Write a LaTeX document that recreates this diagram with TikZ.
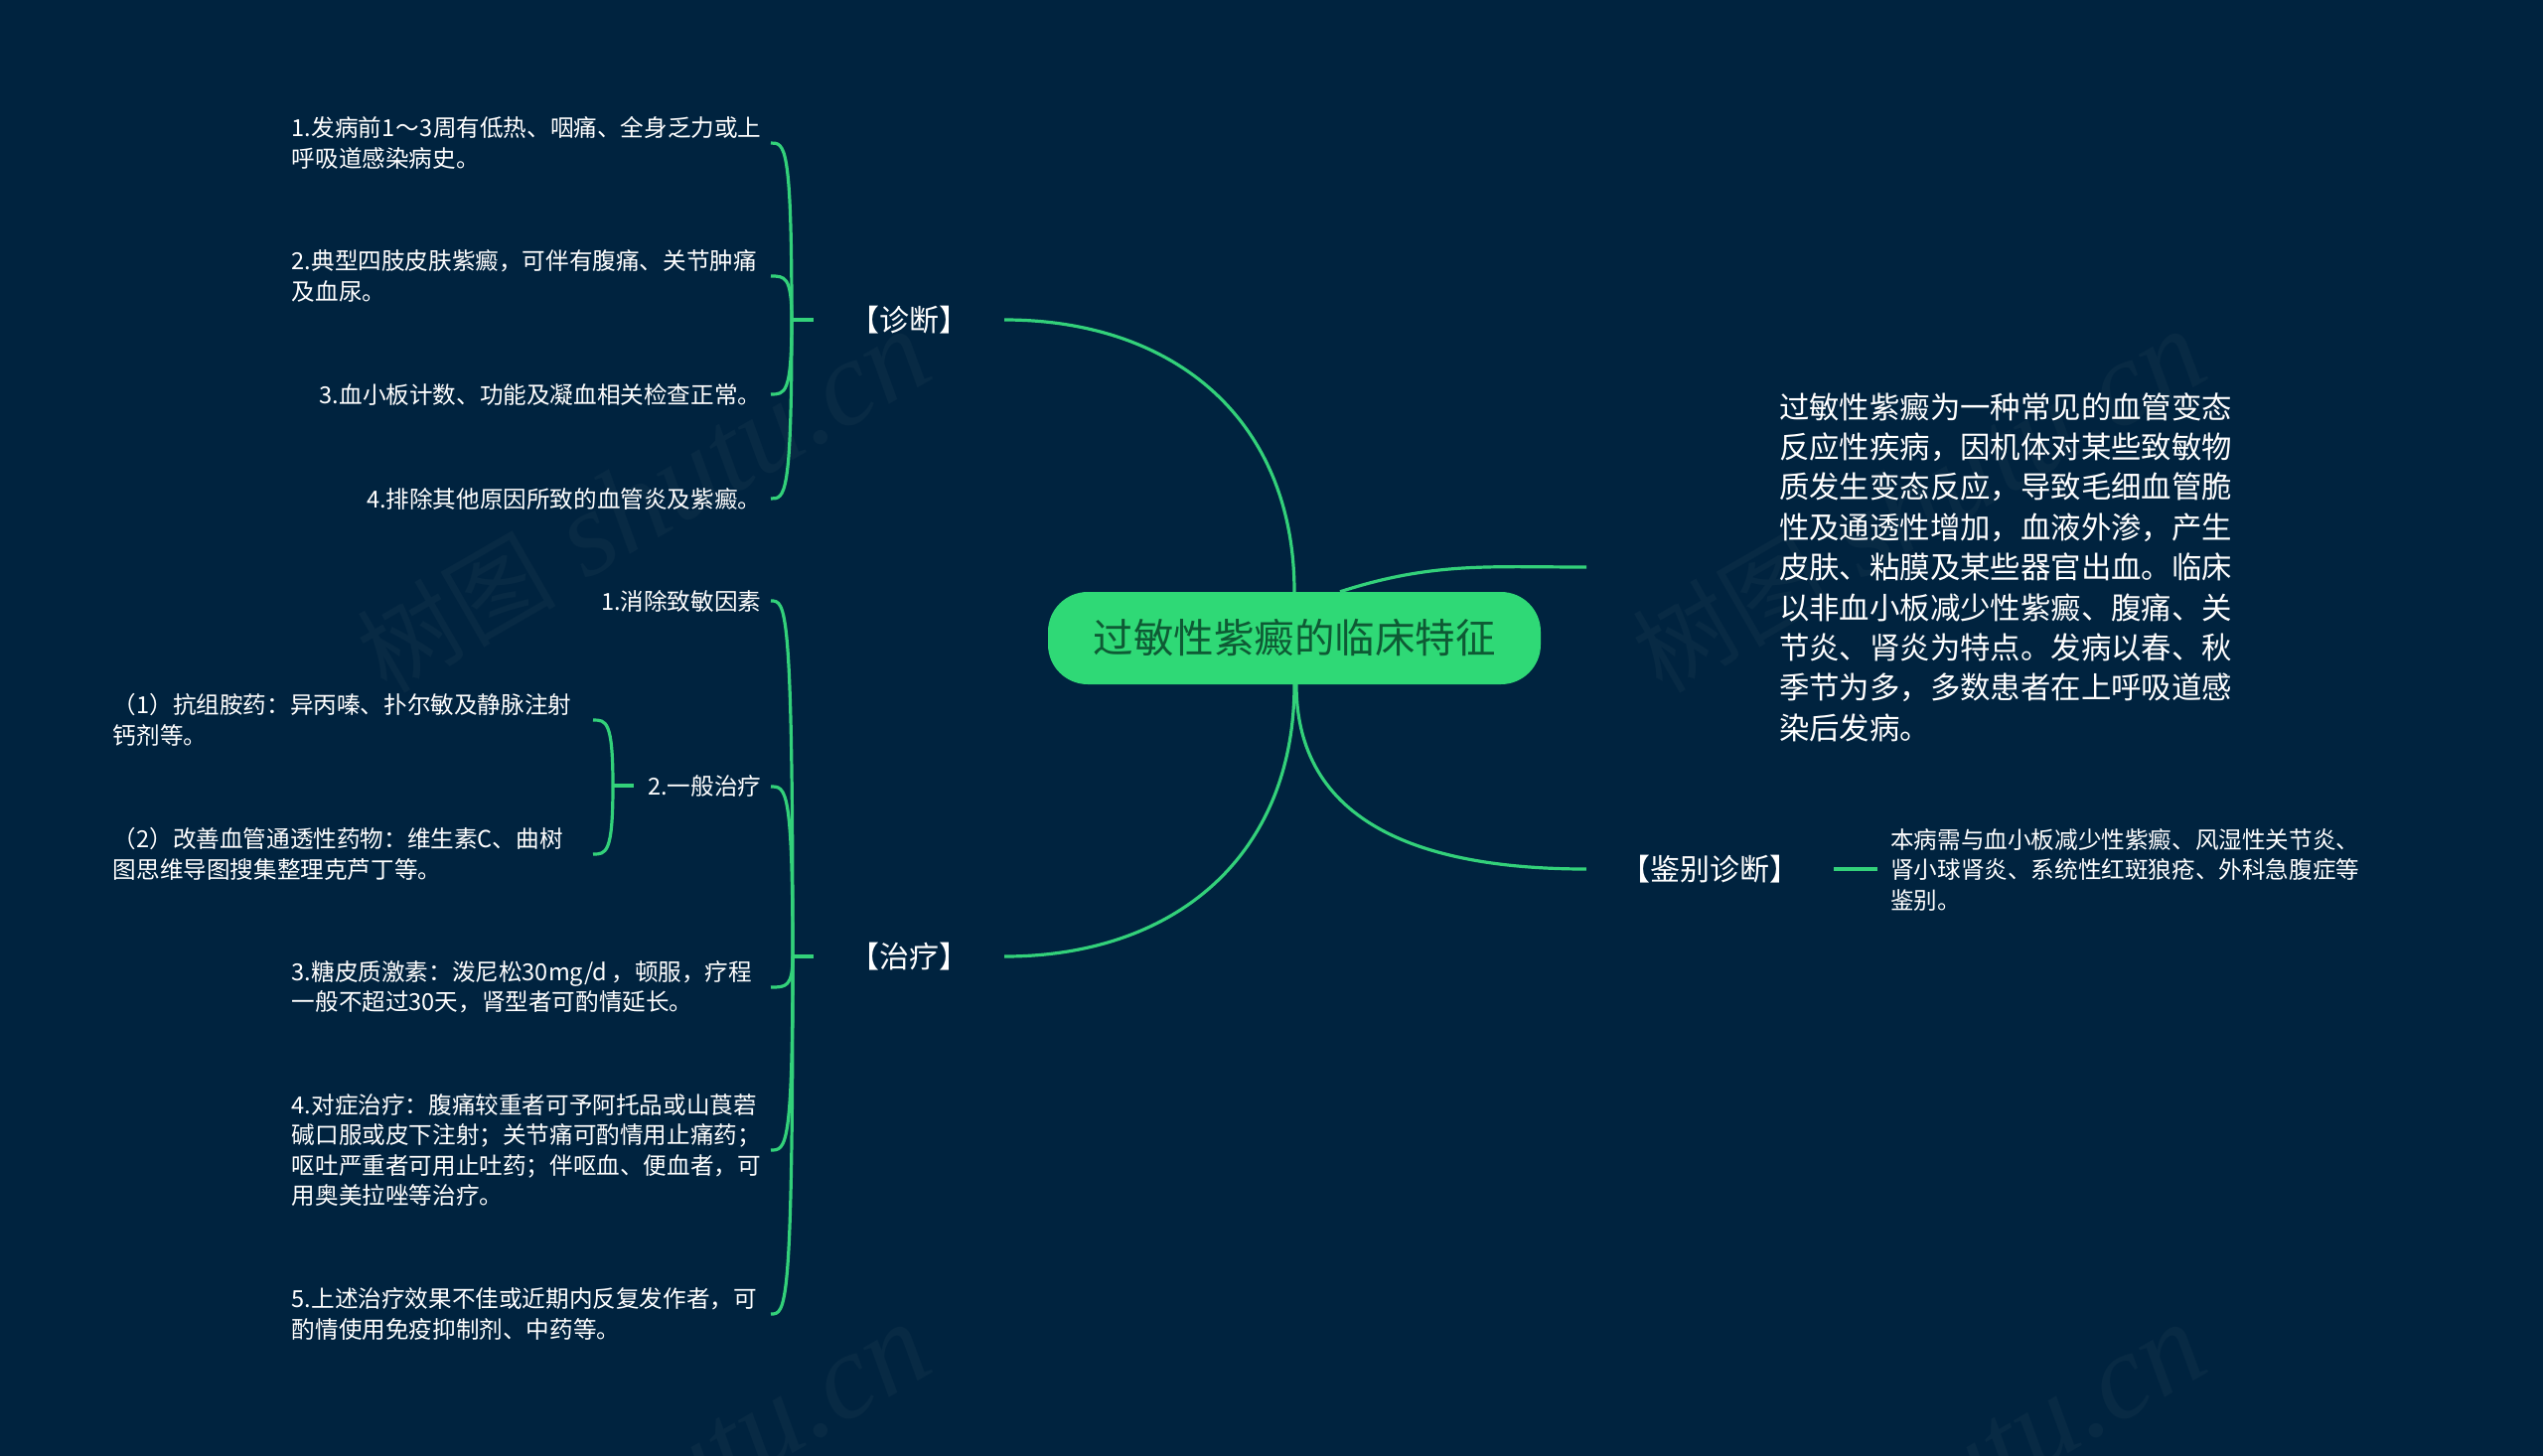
\documentclass[tikz,border=0pt]{standalone}
\usepackage{fontspec}
\setmainfont{Noto Sans CJK SC}
\newfontfamily\stampfont{Liberation Serif}
\usetikzlibrary{positioning}
\definecolor{bgblue}{HTML}{00233F}
\definecolor{mapgreen}{HTML}{33D17A}
\definecolor{rootfill}{HTML}{2FD976}
\definecolor{roottext}{HTML}{0E5A34}
\definecolor{stamp}{HTML}{082A44}
\newcommand{\stamptext}{{\fontspec{Noto Sans CJK SC}\fontsize{100}{100}\selectfont 树图} \textit{shutu.cn}}
\tikzset{
  txt/.style={text=white,font=\fontsize{23.6}{30.4}\selectfont,align=left,inner sep=0pt},
  big/.style={text=white,font=\fontsize{30.4}{40.4}\selectfont,align=left,inner sep=0pt},
  head/.style={text=white,font=\fontsize{30}{36}\selectfont,inner sep=0pt},
  link/.style={draw=mapgreen,line width=3.2pt},
  stub/.style={draw=mapgreen,line width=4pt},
  wm/.style={text=stamp,font=\stampfont\fontsize{122}{122}\selectfont,rotate=30,inner sep=0pt}
}
\begin{document}
\begin{tikzpicture}[x=1pt,y=-1pt]
  \useasboundingbox (0,0) rectangle (2560,1465);
  \fill[bgblue] (-5,-5) rectangle (2565,1470);

  % watermark
  \node[wm] (w1) at (648,506) {\stamptext};
  \node[wm] (w2) at (1932,506) {\stamptext};
  \node[wm] (w3) at (648,1506) {\stamptext};
  \node[wm] (w4) at (1932,1506) {\stamptext};

  \node[fill=rootfill,rounded corners=40pt,minimum width=496pt,minimum height=93pt,
    text=roottext,font=\fontsize{40.5}{48}\selectfont] (root) at (1303,642.5) {过敏性紫癜的临床特征};

  \node[head,minimum width=192pt] (zd) at (915,322) {【诊断】};
  \node[head,minimum width=192pt] (zl) at (915,963) {【治疗】};
  \node[head,minimum width=249pt] (jb) at (1721.5,875) {【鉴别诊断】};
  \coordinate (ptail) at (1597,571);
  \node[big] (intro) at (2019,571) {过敏性紫癜为一种常见的血管变态\\反应性疾病，因机体对某些致敏物\\质发生变态反应，导致毛细血管脆\\性及通透性增加，血液外渗，产生\\皮肤、粘膜及某些器官出血。临床\\以非血小板减少性紫癜、腹痛、关\\节炎、肾炎为特点。发病以春、秋\\季节为多，多数患者在上呼吸道感\\染后发病。};
  \node[txt,anchor=west,inner xsep=13pt,yshift=-1pt] (jb1) at (1890,875) {本病需与血小板减少性紫癜、风湿性关节炎、\\肾小球肾炎、系统性红斑狼疮、外科急腹症等\\鉴别。};

  \coordinate (zdj) at (797,322);
  \coordinate (zlj) at (798,963);
  \coordinate (ybj) at (617,791);
  \coordinate (ybs) at (638,791);

  \node[txt,anchor=east,inner xsep=12pt,text width=470pt,yshift=-2pt] (d1) at (776,142) {1.发病前1\kern1pt～\kern1pt3周有低热、咽痛、全身乏力或上\\呼吸道感染病史。};
  \node[txt,anchor=east,inner xsep=12pt,text width=470pt,yshift=-1pt] (d2) at (776,277) {2.典型四肢皮肤紫癜，可伴有腹痛、关节肿痛\\及血尿。};
  \node[txt,anchor=east,inner xsep=9.5pt] (d3) at (776,397) {3.血小板计数、功能及凝血相关检查正常。};
  \node[txt,anchor=east,inner xsep=9.5pt] (d4) at (776,502) {4.排除其他原因所致的血管炎及紫癜。};

  \node[txt,anchor=east,inner xsep=9.5pt,yshift=-1pt] (t1) at (776,604) {1.消除致敏因素};
  \node[txt,anchor=east,inner xsep=9.5pt,yshift=-1pt] (t2) at (776,791) {2.一般治疗};
  \node[txt,anchor=east,inner xsep=12pt,text width=470pt,yshift=-1pt] (t3) at (776,993) {3.糖皮质激素：泼尼松30mg/d\kern4pt，顿服，疗程\\一般不超过30天，肾型者可酌情延长。};
  \node[txt,anchor=east,inner xsep=12pt,text width=470pt] (t4) at (776,1158) {4.对症治疗：腹痛较重者可予阿托品或山莨菪\\碱口服或皮下注射；关节痛可酌情用止痛药；\\呕吐严重者可用止吐药；伴呕血、便血者，可\\用奥美拉唑等治疗。};
  \node[txt,anchor=east,inner xsep=12pt,text width=470pt,yshift=-1pt] (t5) at (776,1322) {5.上述治疗效果不佳或近期内反复发作者，可\\酌情使用免疫抑制剂、中药等。};

  \node[txt,anchor=east,inner xsep=20pt,text width=463pt,yshift=-2pt] (s1) at (597,723) {（1）抗组胺药：异丙嗪、扑尔敏及静脉注射\\钙剂等。};
  \node[txt,anchor=east,inner xsep=20pt,text width=463pt,yshift=-1pt] (s2) at (597,859) {（2）改善血管通透性药物：维生素C、曲树\\图思维导图搜集整理克芦丁等。};

  \draw[link] (root.north) to[out=90,in=0,looseness=1.1] (zd.east);
  \draw[link] (root.south) to[out=-90,in=0,looseness=1.1] (zl.east);
  \draw[link] ([xshift=2pt]root.south) to[out=-90,in=180,looseness=1.1] (jb.west);
  \draw[link] ([xshift=46pt]root.north) to[out=18,in=180] (ptail);
  \draw[stub] (jb.east) -- (jb1.west |- jb.east);

  \draw[stub] (zdj) -- (zd.west);
  \draw[stub] (zlj) -- (zl.west);
  \draw[stub] (ybj) -- (ybs);

  \foreach \from/\to in {zdj/d1,zdj/d2,zdj/d3,zdj/d4,zlj/t1,zlj/t2,zlj/t3,zlj/t4,zlj/t5,ybj/s1,ybj/s2}
    \draw[link] (\from) .. controls (\from |- \to.east) and ([xshift=-7pt]\from |- \to.east) .. (\to.east);
\end{tikzpicture}
\end{document}
